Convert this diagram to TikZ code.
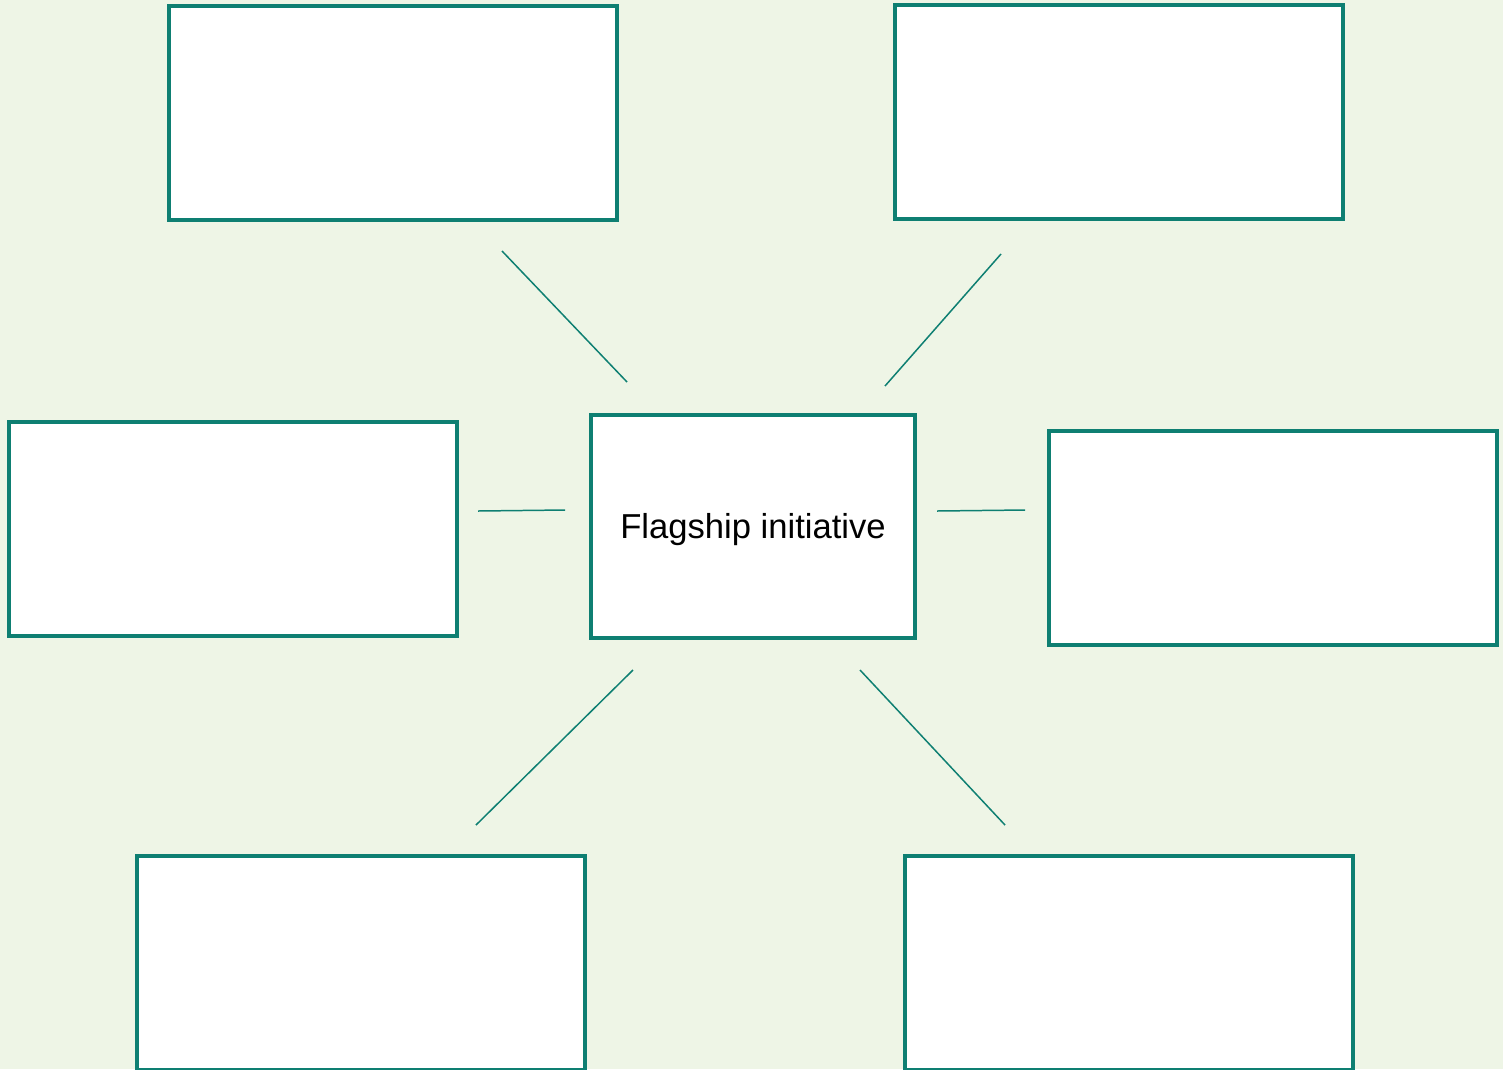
\documentclass[tikz,border=0pt]{standalone}
\usepackage{fontspec}
\setmainfont{Liberation Sans}
\usepackage{xcolor}
\usetikzlibrary{positioning}
\definecolor{teal1}{HTML}{0E7F72}
\definecolor{paper}{HTML}{EEF5E6}
\tikzstyle{card} = [rectangle, draw=teal1, line width=2pt, fill=white, minimum width=8.96cm, minimum height=4.28cm, inner sep=0pt]
\tikzstyle{hub} = [rectangle, draw=teal1, line width=2pt, fill=white, minimum width=6.48cm, minimum height=4.46cm, inner sep=0pt, font=\fontsize{19.7}{23}\selectfont]
\tikzstyle{link} = [draw=teal1, line width=0.85pt]

\begin{document}
\begin{tikzpicture}[x=0.02cm, y=-0.02cm]
\fill[paper] (0,0) rectangle (1503,1069);
\useasboundingbox (0,0) rectangle (1503,1069);
\clip (0,0) rectangle (1503,1069);
\node (hub) [hub] at (753,526.5) {\raisebox{-2pt}[\height][\depth]{Flagship initiative}};
\node (tl) [card] at (393,113) {};
\node (tr) [card] at (1119,112) {};
\node (ml) [card] at (233,529) {};
\node (mr) [card] at (1273,538) {};
\node (bl) [card] at (361,963) {};
\node (br) [card] at (1129,963) {};

% loose spokes, they stop short of the boxes
\coordinate (tl1) at (502,251);   \coordinate (tl2) at (627,382);
\coordinate (tr1) at (1001,254);  \coordinate (tr2) at (885,386);
\coordinate (ml1) at (478,511);   \coordinate (ml2) at (565,510);
\coordinate (mr1) at (937,511);   \coordinate (mr2) at (1025,510);
\coordinate (bl1) at (633,670);   \coordinate (bl2) at (476,825);
\coordinate (br1) at (860,670);   \coordinate (br2) at (1005,825);

\draw [link] (tl1) -- (tl2);
\draw [link] (tr1) -- (tr2);
\draw [link] (ml1) -- (ml2);
\draw [link] (mr1) -- (mr2);
\draw [link] (bl1) -- (bl2);
\draw [link] (br1) -- (br2);
\end{tikzpicture}
\end{document}
